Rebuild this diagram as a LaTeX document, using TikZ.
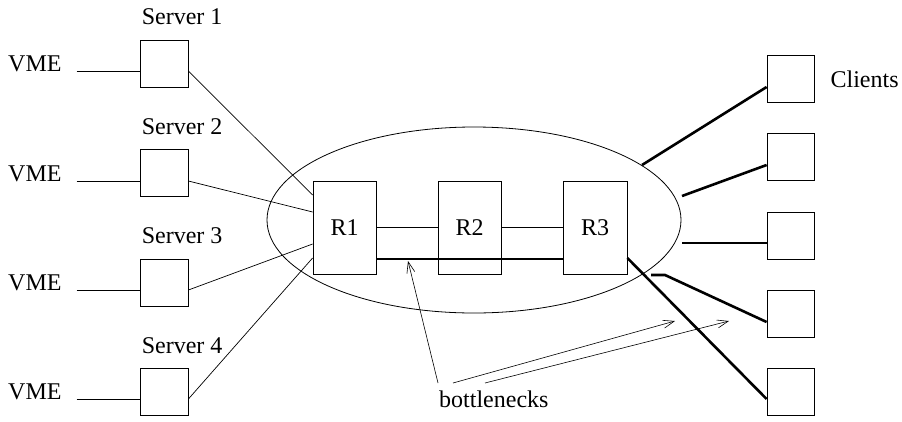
\documentclass[tikz,border=0pt]{standalone}
\usepackage{fontspec}
\setmainfont{Liberation Serif}
\usetikzlibrary{arrows.meta,shapes.geometric}
\begin{document}
\begin{tikzpicture}[x=1pt,y=-1pt,
  font=\fontsize{24}{28}\selectfont,
  box/.style={draw, line width=0.8pt, fill=white, minimum width=48pt, minimum height=47pt, inner sep=0pt},
  router/.style={draw, line width=0.8pt, fill=white, minimum width=63pt, minimum height=93pt, inner sep=0pt},
  lbl/.style={inner sep=0pt, anchor=base west},
  thin/.style={line width=0.7pt},
  thick/.style={line width=2.6pt},
  pointer/.style={line width=0.6pt, -{Straight Barb[length=11pt,width=8pt]}}]
\useasboundingbox (0,0) rectangle (902,421);

% backbone cloud
\node[draw, ellipse, line width=0.8pt, minimum width=414pt, minimum height=186pt, inner sep=0pt] (cloud) at (474,220) {};

% routers
\node[router] (r1) at (344.5,227.5) {R1};
\node[router] (r2) at (469.5,227.5) {R2};
\node[router, minimum width=64pt] (r3) at (595,227.5) {R3};

% servers
\foreach \i/\y in {1/63.5, 2/173, 3/282.5, 4/392} {
  \node[box] (s\i) at (164,\y) {};
  \node[lbl] (sl\i) at ([xshift=2pt,yshift=15pt]s\i.north west) {Server \i};
}
% VME labels
\foreach \i/\y in {1/71, 2/181, 3/290, 4/399} {
  \node[lbl] (v\i) at (8,\y) {VME};
  \draw[thin] ([xshift=15pt]v\i.base east) -- (v\i.base -| s\i.west);
}

% servers to R1
\draw[thin] (v1.base -| s1.east) -- ([yshift=32.5pt]r1.west);
\draw[thin] (v2.base -| s2.east) -- ([yshift=15.5pt]r1.west);
\draw[thin] (v3.base -| s3.east) -- ([yshift=-16.5pt]r1.west);
\draw[thin] (v4.base -| s4.east) -- ([yshift=-30.5pt]r1.west);

% router links
\draw[thin] (r1) -- (r2);
\draw[thin] (r2) -- (r3);
\draw[thick] ([yshift=-31.5pt]r1.east) -- ([yshift=-31.5pt]r3.west);

% clients
\foreach \i/\y in {1/79, 2/157, 3/235.5, 4/314, 5/392} {
  \node[box, minimum width=47pt] (c\i) at (790.5,\y) {};
}
\node[lbl] (cl) at ([xshift=16pt,yshift=-8pt]c1.east) {Clients};

\coordinate (e1) at (642,165);
\coordinate (e2) at (682,196);
\coordinate (e3) at (682,243);
\coordinate (e4) at (665,275);
\coordinate (e4b) at (651,275);
\draw[thick] ([yshift=-8pt]c1.west) -- (e1);
\draw[thick] ([yshift=-8pt]c2.west) -- (e2);
\draw[thick] ([yshift=-7.5pt]c3.west) -- (e3);
\draw[thick] ([yshift=-8pt]c4.west) -- (e4) -- (e4b);
\draw[thick] ([yshift=-7pt]c5.west) -- ([yshift=-30.5pt]r3.east);

% bottleneck callouts
\node[lbl] (bn) at (439,407) {bottlenecks};
\coordinate (t1) at (438,383);
\coordinate (t2) at (453,383);
\coordinate (t3) at (485,383);
\coordinate (h1) at (408,261);
\coordinate (h2) at (675,321);
\coordinate (h3) at (729,321);
\draw[pointer] (t1) -- (h1);
\draw[pointer] (t2) -- (h2);
\draw[pointer] (t3) -- (h3);
\end{tikzpicture}
\end{document}
